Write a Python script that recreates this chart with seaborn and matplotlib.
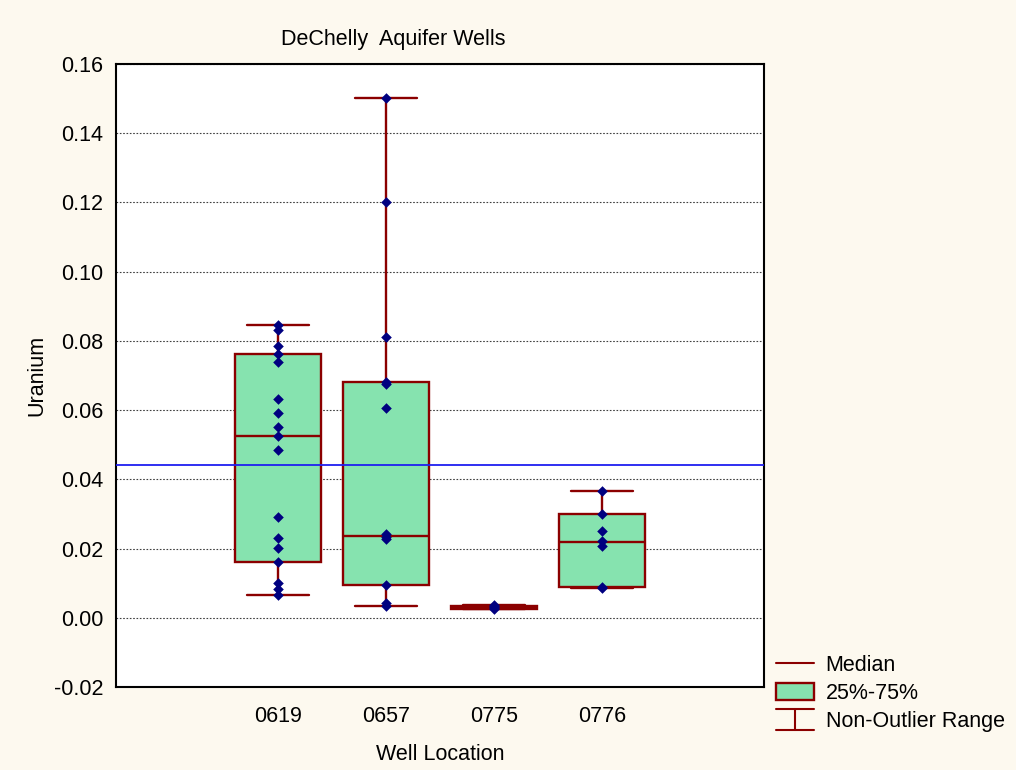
import numpy as np
import pandas as pd
import matplotlib
matplotlib.use("Agg")
import matplotlib.pyplot as plt
import seaborn as sns
from matplotlib.legend_handler import HandlerBase
from matplotlib.lines import Line2D
from matplotlib.patches import Patch

# ---------------- data ----------------
wells = ["0619", "0657", "0775", "0776"]

u_0619 = [0.0846, 0.0832, 0.0785, 0.0761, 0.0740, 0.0632, 0.0591, 0.0551,
          0.0526, 0.0486, 0.0291, 0.0230, 0.0201, 0.0161, 0.0100, 0.0083, 0.0066]
u_0657 = [0.1503, 0.1202, 0.0810, 0.0680, 0.0676, 0.0605, 0.0243, 0.0233,
          0.0228, 0.0095, 0.0042, 0.0035]
u_0775 = [0.0036, 0.0033, 0.0031, 0.0028, 0.0025]
u_0776 = [0.0367, 0.0301, 0.0251, 0.0222, 0.0206, 0.0090, 0.0087]

box_q1 = [0.0161, 0.0095, 0.0026, 0.0090]
box_median = [0.0526, 0.0235, 0.0030, 0.0220]
box_q3 = [0.0761, 0.0680, 0.0034, 0.0301]
whisker_low = [0.0066, 0.0035, 0.0024, 0.0086]
whisker_high = [0.0846, 0.1503, 0.0036, 0.0367]

overall_mean = 0.0442

y_ticks = [-0.02, 0.00, 0.02, 0.04, 0.06, 0.08, 0.10, 0.12, 0.14, 0.16]
y_ticklabels = ["-0.02", "0.00", "0.02", "0.04", "0.06", "0.08", "0.10",
                "0.12", "0.14", "0.16"]

title = "DeChelly  Aquifer Wells"
x_label = "Well Location"
y_label = "Uranium"
legend_labels = ["Median", "25%-75%", "Non-Outlier Range"]

# ---------------- style ----------------
BG = "#FDF9EF"
DARKRED = "#8B0000"
GREEN = "#86E3AF"
NAVY = "#000080"
BLUE = "#1F1FF0"
FS = 15.5

sns.set_theme(style="white")
plt.rcParams["font.family"] = ["Liberation Sans", "DejaVu Sans"]
plt.rcParams["axes.unicode_minus"] = False
plt.rcParams["text.color"] = "black"

df = pd.DataFrame({
    "well": sum([[w] * len(v) for w, v in zip(wells, [u_0619, u_0657, u_0775, u_0776])], []),
    "uranium": u_0619 + u_0657 + u_0775 + u_0776,
})

fig = plt.figure(figsize=(10.16, 7.70), dpi=100, facecolor=BG)
ax = fig.add_axes([116 / 1016, 1 - 687 / 770, (764 - 116) / 1016, (687 - 64) / 770])
ax.set_facecolor("white")

# boxes from the read statistics
stats = []
for w, lo, q1, med, q3, hi in zip(wells, whisker_low, box_q1, box_median, box_q3, whisker_high):
    stats.append({"label": w, "whislo": lo, "q1": q1, "med": med, "q3": q3,
                  "whishi": hi, "fliers": []})
ax.bxp(stats, positions=range(len(wells)), widths=0.8, capwidths=0.57,
       patch_artist=True, showfliers=False, manage_ticks=False,
       boxprops=dict(facecolor=GREEN, edgecolor=DARKRED, linewidth=1.7),
       medianprops=dict(color=DARKRED, linewidth=1.7),
       whiskerprops=dict(color=DARKRED, linewidth=1.7),
       capprops=dict(color=DARKRED, linewidth=1.7))

# overall mean line
ax.axhline(overall_mean, color=BLUE, linewidth=1.3, zorder=4)

# raw points
sns.stripplot(data=df, x="well", y="uranium", order=wells, jitter=False,
              marker="D", color=NAVY, size=5.4, linewidth=0, ax=ax, zorder=6)

ax.set_xlim(-1.5, 4.5)
ax.set_ylim(-0.02, 0.16)
ax.set_xticks(range(-1, 5))
ax.set_xticklabels([""] + wells + [""], fontsize=FS)
ax.set_yticks(y_ticks)
ax.set_yticklabels(y_ticklabels, fontsize=FS)
ax.tick_params(axis="both", direction="in", length=5, width=1, color="black",
               labelcolor="black")
ax.tick_params(axis="x", pad=14)
ax.tick_params(axis="y", pad=9)
ax.grid(axis="y", color="#404040", linestyle=(0, (1.5, 1.5)), linewidth=0.8)
ax.set_axisbelow(True)
for s in ax.spines.values():
    s.set_color("black")
    s.set_linewidth(1.5)

ax.set_xlabel(x_label, fontsize=FS, labelpad=12, color="black")
ax.set_ylabel(y_label, fontsize=FS, labelpad=5, color="black")

fig.text(393 / 1016, 1 - 39 / 770, title, ha="center", va="center",
         fontsize=FS, color="black")


# legend
class RangeHandle:
    pass


class HandlerRange(HandlerBase):
    def create_artists(self, legend, orig_handle, xdescent, ydescent, width,
                       height, fontsize, trans):
        x0, x1 = -xdescent, -xdescent + width
        xm = (x0 + x1) / 2
        yc = -ydescent + height / 2
        ytop = yc + height * 0.62
        ybot = yc - height * 0.62
        arts = [Line2D([x0, x1], [ytop, ytop]), Line2D([x0, x1], [ybot, ybot]),
                Line2D([xm, xm], [ybot, ytop])]
        for a in arts:
            a.set_color(DARKRED)
            a.set_linewidth(1.5)
            a.set_transform(trans)
        return arts


handles = [Line2D([], [], color=DARKRED, linewidth=1.5),
           Patch(facecolor=GREEN, edgecolor=DARKRED, linewidth=1.7),
           RangeHandle()]
leg = ax.legend(handles, legend_labels, handler_map={RangeHandle: HandlerRange()},
                loc="upper left", bbox_to_anchor=(776 / 1016, 1 - 655 / 770),
                bbox_transform=fig.transFigure, frameon=False, fontsize=FS,
                borderpad=0, borderaxespad=0, handlelength=1.75,
                handleheight=0.8, handletextpad=0.55, labelspacing=0.32,
                labelcolor="black")

fig.savefig("out.png", dpi=100, facecolor=BG)
